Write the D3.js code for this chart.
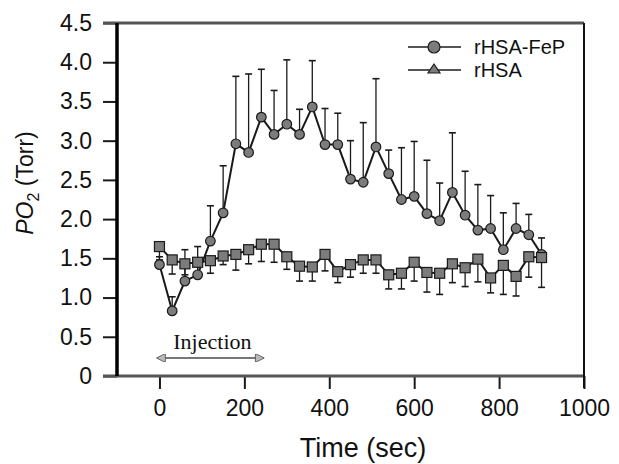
<!DOCTYPE html>
<html>
<head>
<meta charset="utf-8">
<script src="https://cdn.jsdelivr.net/npm/d3@7"></script>
<style>
body { margin: 0; background: #fff; }
text { font-family: "Liberation Sans", Arial, sans-serif; fill: #111; }
</style>
</head>
<body>
<div id="chart"></div>
<script>
var times = [0, 30, 60, 90, 120, 150, 180, 210, 240, 270, 300, 330, 360, 390, 420, 450,
             480, 510, 540, 570, 600, 630, 660, 690, 720, 750, 780, 810, 840, 870, 900];

var fepMean = [1.42, 0.83, 1.21, 1.29, 1.72, 2.08, 2.96, 2.85, 3.30, 3.08, 3.21, 3.08, 3.43, 2.95, 2.95, 2.51,
               2.47, 2.92, 2.58, 2.25, 2.29, 2.07, 1.98, 2.34, 2.05, 1.86, 1.88, 1.61, 1.88, 1.80, 1.55];
var fepErr = [0.10, 0.18, 0.40, 0.36, 0.45, 0.60, 0.86, 1.00, 0.61, 0.56, 0.82, 0.32, 0.59, 0.46, 0.40, 0.49,
              0.76, 0.87, 0.30, 0.66, 0.70, 0.68, 0.48, 0.76, 0.56, 0.58, 0.42, 0.47, 0.32, 0.26, 0.21];

var hsaMean = [1.65, 1.48, 1.43, 1.45, 1.47, 1.53, 1.55, 1.61, 1.68, 1.68, 1.52, 1.40, 1.39, 1.55, 1.33, 1.42,
               1.48, 1.48, 1.29, 1.31, 1.45, 1.32, 1.31, 1.43, 1.38, 1.49, 1.25, 1.41, 1.27, 1.52, 1.51];
var hsaErr = [0.17, 0.18, 0.14, 0.15, 0.16, 0.11, 0.20, 0.18, 0.22, 0.23, 0.16, 0.19, 0.18, 0.21, 0.14, 0.16,
              0.17, 0.17, 0.18, 0.20, 0.24, 0.25, 0.27, 0.24, 0.24, 0.29, 0.19, 0.37, 0.25, 0.26, 0.38];

var seriesNames = ['rHSA-FeP', 'rHSA'];
var xTicks = [0, 200, 400, 600, 800, 1000];
var yTicks = [0, 0.5, 1.0, 1.5, 2.0, 2.5, 3.0, 3.5, 4.0, 4.5];
var yTickLabels = ['0', '0.5', '1.0', '1.5', '2.0', '2.5', '3.0', '3.5', '4.0', '4.5'];
var injection = [0, 240];

var fullWidth = 619;
var fullHeight = 464;
var plotLeft = 117, plotRight = 584, plotTop = 23, plotBottom = 376;

var markerFill = '#7c7c7c';
var ink = '#1a1a1a';

var svg = d3.select('#chart').append('svg')
  .attr('width', fullWidth)
  .attr('height', fullHeight);

var x = d3.scaleLinear().domain([-100, 1000]).range([plotLeft, plotRight]);
var y = d3.scaleLinear().domain([0, 4.5]).range([plotBottom, plotTop]);

// axes
var xAxis = d3.axisBottom(x).tickValues(xTicks).tickSize(13).tickPadding(11)
  .tickFormat(function(d) { return d; });
var yAxis = d3.axisLeft(y).tickValues(yTicks).tickSize(14).tickPadding(11)
  .tickFormat(function(d, i) { return yTickLabels[i]; });

var xAxisEle = svg.append('g')
  .attr('transform', 'translate(0,' + plotBottom + ')')
  .call(xAxis);
var yAxisEle = svg.append('g')
  .attr('transform', 'translate(' + plotLeft + ',0)')
  .call(yAxis);

[xAxisEle, yAxisEle].forEach(function(a) {
  a.select('.domain').remove();
  a.selectAll('.tick line').attr('stroke', ink).attr('stroke-width', 2);
  a.selectAll('.tick text')
    .style('font-family', '"Liberation Sans", Arial, sans-serif')
    .style('font-size', '23px')
    .attr('fill', '#111');
});

// frame
svg.append('line').attr('x1', plotLeft - 14).attr('x2', plotRight).attr('y1', plotTop).attr('y2', plotTop)
  .attr('stroke', '#555').attr('stroke-width', 3);
svg.append('line').attr('x1', plotLeft - 14).attr('x2', plotRight + 1).attr('y1', plotBottom).attr('y2', plotBottom)
  .attr('stroke', '#555').attr('stroke-width', 3);
svg.append('line').attr('x1', plotLeft).attr('x2', plotLeft).attr('y1', plotTop).attr('y2', plotBottom)
  .attr('stroke', '#000').attr('stroke-width', 3.5);
svg.append('line').attr('x1', plotRight).attr('x2', plotRight).attr('y1', plotTop).attr('y2', plotBottom + 12)
  .attr('stroke', '#111').attr('stroke-width', 2);

// axis titles
svg.append('text')
  .attr('x', 363)
  .attr('y', 457)
  .style('text-anchor', 'middle')
  .style('font-size', '27px')
  .text('Time (sec)');

var yTitle = svg.append('text')
  .attr('transform', 'translate(33,183)rotate(-90)')
  .style('text-anchor', 'middle')
  .style('font-size', '23px');
yTitle.append('tspan').style('font-style', 'italic').text('P');
yTitle.append('tspan').style('font-style', 'italic').text('O');
yTitle.append('tspan').attr('dy', 6).style('font-size', '16px').text('2');
yTitle.append('tspan').attr('dy', -6).text(' (Torr)');

// injection annotation
var defs = svg.append('defs');
['start', 'end'].forEach(function(k) {
  defs.append('marker')
    .attr('id', 'arr-' + k)
    .attr('viewBox', '0 0 10 10')
    .attr('refX', 9).attr('refY', 5)
    .attr('markerWidth', 5).attr('markerHeight', 4)
    .attr('markerUnits', 'strokeWidth')
    .attr('orient', k === 'start' ? 'auto-start-reverse' : 'auto')
    .append('path')
      .attr('d', 'M0,0L10,5L0,10Z')
      .attr('fill', '#bbb').attr('stroke', '#555').attr('stroke-width', 1);
});
svg.append('line')
  .attr('x1', x(injection[0]) - 2).attr('x2', x(injection[1]) + 2)
  .attr('y1', 358).attr('y2', 358)
  .attr('stroke', '#777').attr('stroke-width', 2.2)
  .attr('marker-start', 'url(#arr-start)')
  .attr('marker-end', 'url(#arr-end)');
svg.append('text')
  .attr('x', (x(injection[0]) + x(injection[1])) / 2 + 2)
  .attr('y', 349)
  .style('text-anchor', 'middle')
  .style('font-family', '"Liberation Serif", "Times New Roman", serif')
  .style('font-size', '22px')
  .text('Injection');

var fep = times.map(function(t, i) { return {t: t, v: fepMean[i], e: fepErr[i]}; });
var hsa = times.map(function(t, i) { return {t: t, v: hsaMean[i], e: hsaErr[i]}; });

var line = d3.line()
  .x(function(d) { return x(d.t); })
  .y(function(d) { return y(d.v); });

// error bars: upper for rHSA-FeP, lower for rHSA
function errBars(data, sign) {
  var g = svg.append('g');
  g.selectAll('line.stem').data(data).enter().append('line')
    .attr('x1', function(d) { return x(d.t); })
    .attr('x2', function(d) { return x(d.t); })
    .attr('y1', function(d) { return y(d.v); })
    .attr('y2', function(d) { return y(d.v + sign * d.e); })
    .attr('stroke', ink).attr('stroke-width', 1.3);
  g.selectAll('line.cap').data(data).enter().append('line')
    .attr('x1', function(d) { return x(d.t) - 3.5; })
    .attr('x2', function(d) { return x(d.t) + 3.5; })
    .attr('y1', function(d) { return y(d.v + sign * d.e); })
    .attr('y2', function(d) { return y(d.v + sign * d.e); })
    .attr('stroke', ink).attr('stroke-width', 1.6);
}

errBars(fep, 1);
errBars(hsa, -1);

svg.append('path').datum(fep)
  .attr('d', line).attr('fill', 'none')
  .attr('stroke', ink).attr('stroke-width', 2);
svg.append('g').selectAll('circle').data(fep).enter().append('circle')
  .attr('cx', function(d) { return x(d.t); })
  .attr('cy', function(d) { return y(d.v); })
  .attr('r', 4.8)
  .attr('fill', markerFill).attr('stroke', ink).attr('stroke-width', 1.2);

svg.append('path').datum(hsa)
  .attr('d', line).attr('fill', 'none')
  .attr('stroke', ink).attr('stroke-width', 2);
svg.append('g').selectAll('rect').data(hsa).enter().append('rect')
  .attr('x', function(d) { return x(d.t) - 5; })
  .attr('y', function(d) { return y(d.v) - 5; })
  .attr('width', 10).attr('height', 10)
  .attr('fill', markerFill).attr('stroke', ink).attr('stroke-width', 1.2);

// legend
var legend = svg.append('g').attr('class', 'legend');
var rowY = [47, 70];
seriesNames.forEach(function(name, i) {
  legend.append('line')
    .attr('x1', 408).attr('x2', 461)
    .attr('y1', rowY[i]).attr('y2', rowY[i])
    .attr('stroke', '#555').attr('stroke-width', 1.8);
  if (i === 0) {
    legend.append('circle')
      .attr('cx', 434).attr('cy', rowY[i]).attr('r', 6)
      .attr('fill', markerFill).attr('stroke', ink).attr('stroke-width', 1.2);
  } else {
    legend.append('path')
      .attr('d', 'M428,' + (rowY[i] + 3) + 'L440,' + (rowY[i] + 3) + 'L434,' + (rowY[i] - 6) + 'Z')
      .attr('fill', markerFill).attr('stroke', ink).attr('stroke-width', 1.2);
  }
  legend.append('text')
    .attr('x', 474)
    .attr('y', rowY[i] + 7)
    .style('font-size', '20px')
    .text(name);
});
</script>
</body>
</html>
